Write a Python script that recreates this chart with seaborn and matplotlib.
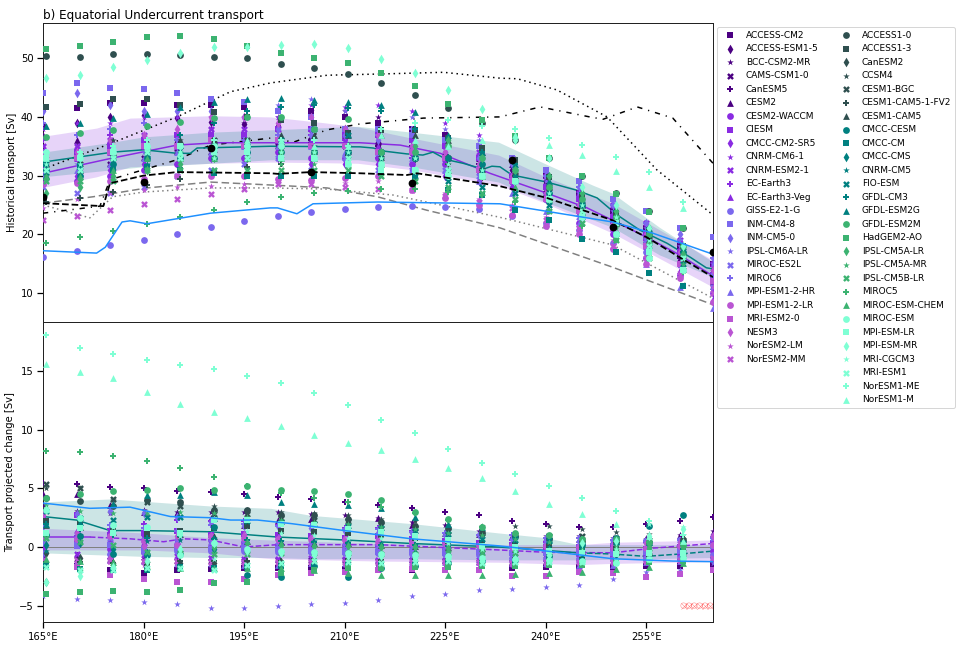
import pandas as pd
import seaborn as sns
import matplotlib.pyplot as plt
from matplotlib.lines import Line2D

# --- Models ---
cmip6_models = ["ACCESS-CM2", "ACCESS-ESM1-5", "BCC-CSM2-MR", "CAMS-CSM1-0", "CanESM5", "CESM2",
                "CESM2-WACCM", "CIESM", "CMCC-CM2-SR5", "CNRM-CM6-1", "CNRM-ESM2-1", "EC-Earth3", "EC-Earth3-Veg",
                "GISS-E2-1-G", "INM-CM4-8", "INM-CM5-0", "IPSL-CM6A-LR", "MIROC-ES2L", "MIROC6", "MPI-ESM1-2-HR",
                "MPI-ESM1-2-LR", "MRI-ESM2-0", "NESM3", "NorESM2-LM", "NorESM2-MM"]
cmip5_models = ["ACCESS1-0", "ACCESS1-3", "CanESM2", "CCSM4", "CESM1-BGC", "CESM1-CAM5-1-FV2", "CESM1-CAM5",
                "CMCC-CESM", "CMCC-CM", "CMCC-CMS", "CNRM-CM5", "FIO-ESM", "GFDL-CM3", "GFDL-ESM2G",
                "GFDL-ESM2M", "HadGEM2-AO", "IPSL-CM5A-LR", "IPSL-CM5A-MR", "IPSL-CM5B-LR", "MIROC5", "MIROC-ESM-CHEM",
                "MIROC-ESM", "MPI-ESM-LR", "MPI-ESM-MR", "MRI-CGCM3", "MRI-ESM1", "NorESM1-ME", "NorESM1-M"]
lons6 = [165, 170, 175, 180, 185, 190, 195, 200, 205, 210, 215, 220, 225, 230, 235, 240, 245, 250, 255, 260, 265]
lons5 = [165.5, 170.5, 175.5, 180.5, 185.5, 190.5, 195.5, 200.5, 205.5, 210.5, 215.5, 220.5, 225.5, 230.5,
         235.5, 240.5, 245.5, 250.5, 255.5, 260.5]

# --- Historical transport, one row per model ---
hist6 = [
    [41.5, 41.5, 42.3, 42.3, 42, 42, 41.7, 41, 41, 40, 39, 38, 37, 35, 33, 30, 27, 24, 21, 18, 15],
    [38.6, 39, 40, 40.3, 39.8, 39.2, 38.8, 38.5, 38, 38, 37, 36, 35, 33, 31, 29, 26, 23, 20, 17, 14],
    [35, 35, 36, 37, 37, 38, 39, 40, 41, 41, 40, 38, 37, 32.5, 32, 29, 27, 24, 21, 17, 13],
    [34, 33, 32, 33, 34, 34, 35, 35, 36, 35, 35, 34, 33, 31, 29, 27, 24, 22, 19, 15, 11],
    [33, 34, 35, 35, 35, 36, 36, 36, 36, 36, 35, 35, 33, 32, 30, 28, 25, 22, 19, 16, 13],
    [37, 36, 36, 35, 36, 37, 37, 36, 36, 37, 36, 35, 34, 33, 32, 29, 27, 23, 20, 16, 12],
    [31, 29, 30, 31, 32, 33, 33, 34, 33, 33, 33, 32, 32, 31, 29, 26, 22, 20, 16, 13, 10],
    [34, 34, 35, 36, 37, 37, 37, 38, 38, 37, 37, 36, 35, 33, 30, 28, 26, 23, 20, 17, 13],
    [30, 30, 31, 32, 32, 33, 33, 33, 32, 32, 32, 31, 30, 29, 28, 26, 24, 21, 18, 15, 11],
    [38, 39, 39, 40, 40, 40, 40, 40, 42, 41.7, 42, 41, 39, 37, 33, 30, 27, 24, 21, 18, 15],
    [35, 35, 36, 37, 37, 38, 38, 38, 38, 37, 37, 37, 35, 34, 33, 30, 27, 25, 22, 19, 15],
    [36, 37, 37, 36, 37, 37, 37, 37, 37, 36, 33, 33, 33, 31, 30, 27, 25, 22, 19, 15, 12],
    [33, 33, 34, 35, 35, 36, 36, 36, 36, 36, 35, 35, 33, 32, 30, 27, 25, 21, 18, 14, 9],
    [16.1, 17.1, 18.1, 19.1, 20.1, 21.2, 22.2, 23.1, 23.8, 24.3, 24.6, 24.8, 24.6, 24.3, 23.2, 22, 20.8, 18.5, 17, 15, 13],
    [44, 45.8, 45, 44.7, 44, 43, 42.5, 41, 40, 38, 38, 37, 36, 35, 33, 31, 29, 26, 24, 21, 19.5],
    [41, 44, 42, 41, 41, 41, 40, 38, 37, 37, 36, 35, 34, 33, 32, 30, 28, 25, 22, 20, 16],
    [32, 32, 34, 34, 34, 34, 35, 42, 43, 41, 38, 40, 38, 36, 32, 29, 27, 24, 21, 18, 15],
    [28, 27, 27, 28, 30, 31, 32, 33, 31, 33, 31, 31, 31, 30, 29, 26, 23, 21, 19, 15, 11],
    [39, 37, 38, 39, 36, 36, 36, 37, 38, 38, 37, 38, 36, 35, 33, 30, 28, 25, 22, 19, 16],
    [30, 31, 32, 33, 34, 34, 35, 35, 35, 34, 34, 33, 31, 29, 27, 24, 22, 18, 15, 11, 7.5],
    [28.5, 28.7, 29, 29.5, 30, 30, 30, 29.5, 29.2, 29.6, 30, 27.5, 26.2, 25, 23.3, 21.5, 20, 17.5, 15, 12.5, 8.5],
    [32, 33, 34, 35, 35, 36, 35, 36, 35, 35, 34, 34, 33, 31, 29, 26, 24, 21, 18, 15, 12],
    [33, 34, 36, 37, 38, 40, 40, 39, 40, 38, 37, 35, 34, 32, 30, 27, 25, 22, 20, 17, 14],
    [24.5, 26, 27, 27.5, 28, 28.3, 28.5, 28.8, 29, 28.7, 29, 28, 27, 26, 25, 23, 21, 19, 16, 13.5, 11],
    [22.5, 23.1, 24.1, 25.2, 26, 26.9, 27.7, 28.5, 28.5, 28, 27.7, 27.5, 26.5, 25.5, 24.5, 22.5, 21, 18, 16, 13, 10],
]
hist5 = [
    [50.3, 50.2, 50.7, 50.7, 50.6, 50.2, 50, 49, 48.4, 47.3, 45.8, 43.7, 41.5, 39, 36, 33, 30, 27, 24, 21],
    [41.7, 42.2, 43, 43, 42, 40.8, 40, 39.5, 39, 37.3, 37.8, 37.8, 36.4, 34.7, 32.6, 29.8, 26.4, 23.5, 20.5, 18],
    [31, 30, 31, 31, 33, 34, 35, 35, 34, 34, 33, 33, 33, 30, 30, 28, 26, 23, 20, 16],
    [33, 34, 36, 36, 36, 36, 35, 34, 35, 35, 34, 33, 32, 31, 30, 27, 24, 22, 19, 16],
    [32, 32, 33, 34, 35, 36, 36, 35, 34, 34, 33, 33, 33, 31, 30, 28, 25, 22, 19, 16],
    [25.5, 26.2, 27.2, 28.4, 29.4, 30.4, 31.5, 32, 33, 33.5, 34, 33, 32, 31, 30, 28, 26, 23, 20, 17],
    [30, 31, 34, 35, 36, 36, 36, 37, 37, 37, 37, 37, 36, 34, 31, 28, 25, 22, 20, 17],
    [31, 30, 32, 33, 33, 33, 34, 34, 34, 34, 34, 33, 33, 32, 29, 27, 25, 23, 20, 17],
    [32, 31.5, 31, 31.5, 31, 30.5, 30, 30, 30, 30, 30.4, 29.6, 27.5, 26.7, 24.1, 22.4, 19.2, 17, 13.4, 11.2],
    [32, 33, 33, 34, 34, 34, 34, 34, 34, 35, 33, 34, 33, 31, 30, 28, 25, 23, 20, 17],
    [29, 30, 31, 32, 33, 33, 33, 33, 33, 33, 33, 33, 31, 30, 29, 27, 25, 22, 19, 16],
    [30, 31, 33, 33, 35, 35, 35, 36, 38, 37, 34, 30, 29, 28, 27, 25, 23, 20, 18, 15],
    [31, 32, 35, 36, 37, 39, 41, 41.7, 42, 41.5, 41, 38, 36, 34, 32, 30, 27, 24, 21, 18],
    [38.4, 39, 39.8, 40.5, 41.7, 42.5, 43, 43.2, 42.9, 42.6, 42, 40.8, 37, 34, 32, 29, 26, 23, 21, 18],
    [36.6, 37.3, 37.8, 38.4, 39.2, 39.8, 40, 40, 38, 39.6, 34, 34, 35, 33, 31, 28, 26, 23, 20, 18],
    [51.6, 52, 52.8, 53.6, 53.8, 53.3, 52, 50.9, 50, 49.2, 47.5, 45.2, 42.2, 39.5, 36.7, 33, 30, 26.9, 23.8, 21],
    [27, 28, 30, 31, 32, 33, 33, 34, 34, 35, 34, 35, 36, 33, 31, 30, 27, 24, 21, 18],
    [30, 33, 33, 34, 34, 34, 33, 32, 32, 33, 33, 33, 31, 30, 29, 26, 24, 21, 18, 15],
    [29, 29, 29, 31, 31, 31, 31, 31, 31, 31, 30, 29, 28, 27, 26, 24, 22, 19, 16, 14],
    [18.5, 19.5, 20.6, 21.8, 22.9, 24.1, 25.5, 26.4, 27, 27.4, 27.7, 27.7, 27.2, 26.7, 25.5, 24, 21.5, 19, 16, 13.5],
    [30, 30, 31, 33, 33, 33, 33, 33, 33, 32, 32, 31, 31, 30, 28, 26, 24, 22, 19, 17],
    [34, 33, 34, 35, 35, 35, 35, 35, 33, 32, 32, 31, 30, 30, 29, 26, 23, 20, 16, 14],
    [33, 33, 34, 35, 35, 34, 34, 33, 33, 32, 31, 31, 30, 30, 29, 26, 23, 22, 17, 14],
    [46.6, 47.2, 48.5, 49.7, 50.9, 51.9, 51.9, 52.2, 52.5, 51.7, 49.9, 47.5, 44.6, 41.3, 36, 33, 28, 25, 21, 18],
    [32, 32, 33, 34, 34, 33, 34, 34, 34, 34, 33, 33, 32, 31, 29, 27, 25, 23, 19, 16],
    [31, 31, 33, 34, 33, 34, 33, 33, 33, 33, 32, 31, 31, 30, 29, 26, 24, 20, 18, 16],
    [34, 34, 35, 36, 35, 36, 35, 36, 36, 35, 38, 39, 39.5, 38.5, 38, 36.4, 35.2, 33.2, 30.6, 25.5],
    [33, 34, 35, 35, 34, 35, 36, 36, 35, 35, 37, 36, 35, 36, 37, 35.2, 33.5, 30.8, 28, 24.5],
]

# --- Projected change, one row per model ---
proj6 = [
    [-1.5, -1.6, -2, -2.2, -2, -1.9, -1.8, -1.8, -1.8, -1.9, -2, -2, -2, -2, -1.8, -1.7, -1.7, -1.7, -1.6, -1.6, -1.5],
    [-.9, -.8, -.9, -1, -1, -1.1, -1.2, -1.3, -1.4, -1.4, -1.5, -1.4, -1.4, -1.3, -1.2, -1.2, -1.1, -1.1, -1.1, -1, -1],
    [3.6, 3.1, 2.9, 3.2, 3, 3, 3, 3, 2.8, 2.7, 2.5, 2.1, 1.9, 1.4, 1, .9, .9, .8, .7, 1, 1.4],
    [-1, -1, -1.1, -1.2, -1.2, -1.2, -1.2, -1.1, -1.1, -1.1, -1.2, -1.1, -1.2, -1.3, -1.3, -1.3, -1.3, -1.3, -1.2, -1.2, -1],
    [5.5, 5.4, 5.1, 5, 4.8, 4.7, 4.5, 4.3, 4.1, 3.8, 3.6, 3.3, 3, 2.7, 2.2, 2, 1.7, 1.7, 2, 2.2, 2.6],
    [4.5, 4.5, 3.6, 3, 2.9, 2.5, 1.9, 2.3, 2.4, 1.7, 2.5, 1.9, 1.2, 1.1, .9, .8, .7, .6, .8, 1, 1.2],
    [0, .5, -.2, -.4, .2, .6, .4, .2, .1, .2, .1, .1, -.2, -.3, -.4, -.5, -.7, -.8, -.7, -.6, -.3],
    [2.5, 2.7, 1, 1.2, 1.4, 1, 1.1, 1, .9, .8, .9, .7, .5, .3, .2, 0, -.1, -.2, -.2, 0, .3],
    [.5, 1.3, 1.4, .9, .6, .1, .2, .1, 0, -.1, -.2, -.4, -.4, -.6, -.7, -.7, -.8, -.7, -.7, -.6, -.3],
    [1, 1.2, .4, .4, .5, .6, .8, .5, .4, .4, .2, .2, .1, 0, .1, .2, .2, .4, .6, .7, 1],
    [-.5, -.6, -.8, -.7, -.8, -.9, -1, -1, -.9, -1, -1.1, -1.1, -1.1, -1.1, -1.1, -1, -1.1, -1, -1, -.9, -.8],
    [.7, .9, 1.5, 2, 2.3, 2.2, 2.2, 1.9, 1.8, 1.6, 1.6, 1.4, 1.2, 1, .6, .4, .2, .2, .4, .6, .8],
    [.2, .5, .7, .4, .4, .4, .5, .4, .3, .2, .3, .1, 0, -.1, -.2, -.3, -.4, -.5, -.3, -.2, .2],
    [-.5, .3, -.6, -.4, -.3, -.3, -.3, -.4, -.4, -.5, -.5, -.6, -.6, -.7, -.9, -1, -1, -1, -.9, -.9, -.7],
    [.3, .1, .2, -.2, -.1, -.2, -.1, -.2, -.3, -.4, -.4, -.4, -.5, -.4, -.5, -.5, -.4, -.5, -.4, -.3, .1],
    [1.8, 2.8, 3.1, 2.9, 2.6, 2.1, 1.8, 1.8, 1.6, 1.4, 1.2, 1.2, 1, 1, .7, .6, .5, .3, .4, .5, .9],
    [-4.2, -4.4, -4.5, -4.7, -4.9, -5.2, -5.2, -5.05, -4.9, -4.8, -4.5, -4.2, -4, -3.7, -3.6, -3.4, -3.2, -2.75, -2.1, -2, -1.4],
    [1.2, 1, .8, .6, .5, .4, .3, .2, .2, .1, .1, 0, 0, 0, .1, .2, .3, .4, .5, .6, .8],
    [1.4, .8, 1.9, 1.6, 1.4, 1.9, 2, 1.8, 1.8, 1.5, 1.5, 1.3, 1.2, 1, 1, .8, .8, .6, .5, .6, .8],
    [-1, -1.2, -1.1, -1.2, -1.4, -1.4, -1.5, -1.5, -1.4, -1.4, -1.5, -1.3, -1.3, -1.3, -1.4, -1.4, -1.5, -1.5, -1.3, -1.2, -.7],
    [.9, .7, .9, .5, .2, .9, .8, .7, .7, .6, .4, .3, .3, .2, .1, .1, 0, -.1, -.1, .1, .2],
    [-1.4, -1.7, -2.4, -2.75, -3, -3, -2.75, -2.4, -2.2, -2.1, -2, -1.9, -2, -2, -2.5, -2.5, -2.1, -2.2, -2.6, -2.3, -2],
    [2.7, 1.2, -.9, .1, .9, .9, 1, .7, .8, .8, .7, .5, .3, .2, 0, 0, 0, .2, .3, .4, .9],
    [-1.2, -1.3, -1.3, -1.5, -1.5, -1.5, -1.5, -1.4, -1.4, -1.5, -1.5, -1.5, -1.4, -1.5, -1.5, -1.5, -1.4, -1.4, -1.3, -1.2, -1],
    [-1.1, -1.1, -1.2, -1.2, -1.2, -1.3, -1.3, -1.3, -1.3, -1.3, -1.3, -1.3, -1.3, -1.3, -1.4, -1.3, -1.3, -1.3, -1.2, -1.1, -.9],
]
proj5 = [
    [4.2, 3.9, 3.5, 4, 3.8, 3.2, 3.2, 2.7, 2.7, 2.4, 2.1, 1.8, 1.6, 1.2, .9, .7, .5, .4, .4, .6],
    [2.2, 2, 1.4, 1.1, 1.4, 1.6, 1.8, 1.4, 1.3, 1.2, 1, .8, .5, .3, .2, .1, -.1, -.2, -.5, -.7],
    [-.5, -.9, -1.4, -1.3, -1.4, -1.4, -1.4, -1.3, -1.3, -1.3, -1.3, -1.2, -1.2, -1.2, -1.1, -1.1, -1, -1, -.9, -.9],
    [5, 5, 4, 4.2, 3.7, 3.5, 3.2, 3, 2.9, 2.7, 2.4, 2.2, 1.9, 1.8, 1.8, 1.8, 1.5, 1.3, 1.1, 1],
    [5.4, 5, 4.1, 3.8, 3.5, 2.8, 2.8, 2.5, 2.3, 2.2, 1.9, 1.6, 1.4, 1.2, 1, .9, .9, .8, .6, .6],
    [-1.3, -1.3, -1.4, -1.5, -1.2, -1.2, -1.2, -1.2, -1, -1, -1.1, -1, -1, -1, -.9, -.9, -.9, -.8, -.8, -.8],
    [1.9, 1.7, 1.3, 1.1, 1.1, .9, .5, .4, .3, .3, .2, .1, 0, -.1, -.2, -.2, -.3, -.4, -.4, -.5],
    [1, .9, -.6, -.7, -.6, 1.7, -2.4, -2.6, -1.6, -2.6, -1.8, -1.6, -1.4, -1.2, -1.1, -.8, .2, .8, 1.8, 2.7],
    [-1.5, -1.9, -2, -2, -1.7, -1.8, -1.7, -1.6, -1.6, -1.5, -1.5, -1.5, -1.4, -1.4, -1.3, -1.3, -1.2, -1.2, -1.1, -1],
    [.2, .3, -.2, -.5, -.3, -.2, -.3, -.4, -.5, -.5, -.6, -.5, -.6, -.6, -.7, -.6, -.6, -.6, -.5, -.5],
    [-.3, 1, 1.3, .5, .6, .8, .6, .5, .5, .4, .3, .2, .1, .1, 0, 0, .1, .1, .2, .3],
    [3.1, 2.5, 2.3, 2.6, 2.6, 2.4, 2.2, 2.1, 2, 1.8, 1.6, 1.4, 1.1, .7, .6, .6, .5, .4, .3, .3],
    [2, 1.5, 1, .8, .9, .7, .6, .5, .4, .3, .2, .2, .1, .1, -.1, -.2, -.2, -.3, -.3, -.2],
    [2, 2.1, 3.7, 4.4, 4.4, 4.7, 4.4, 3.8, 3.7, 3.6, 3.3, 2.6, 2, 1.7, 1.1, .6, .5, .5, .4, .4],
    [4.2, 4.5, 4.8, 4.9, 5, 4.9, 5.2, 4.9, 4.8, 4.5, 4, 3, 2.4, 1.7, 1.2, 1, .7, .7, .4, .2],
    [-4, -3.8, -3.75, -3.8, -3.65, -3.05, -3, -2.2, -2, -1.8, -1.8, -1.7, -1.7, -1.6, -1.6, -1.5, -1.5, -1.4, -1.3, -1.2],
    [-3, -2, -1.5, -1.3, -.3, 0, .3, .2, .1, .1, 0, 0, -.1, -.2, -.2, -.3, -.3, -.2, -.1, 0],
    [3.6, 3.1, 2.9, 2.9, 3, 2.9, 2.6, 2.3, 2.1, 2, 1.7, 1.5, 1.2, 1, .7, .4, .3, .1, .1, .2],
    [.8, .4, .2, -.4, -.5, -.6, -.6, -.5, -.5, -.5, -.6, -.6, -.5, -.5, -.5, -.5, -.5, -.5, -.4, -.4],
    [8.2, 8.1, 7.8, 7.3, 6.7, 6, 5.2, 4.6, 4.2, 3.8, 3.4, 2.9, 2.3, 1.7, 1.1, .9, .7, .5, .4, .3],
    [-1, -1.2, -1.3, -1.6, -1.8, -1.8, -1.8, -1.8, -2, -2.2, -2.4, -2.4, -2.4, -2.4, -2.3, -2.2, -2.1, -1.9, -1.7, -1.4],
    [3.2, 2.5, 1.9, 1.7, -.7, .3, -.2, -.3, -.4, -.5, -.6, -.7, -.8, -.9, -1, -1.1, -1.2, -1.4, -1, -.9],
    [1.2, 1.6, 1.2, 1.6, 1.2, 2.3, 2.3, 2, 1.9, 1.5, 1.3, .9, .6, .1, 0, -.3, -.5, -.6, -.5, -.5],
    [-3, -2.5, -1.7, -1.2, -.2, .3, -.3, -.5, -.7, -.8, -.8, -.9, -.9, -1, -1, -.7, .3, .5, .9, 1.5],
    [3.3, 2.4, 1.7, -1, .9, -1, 1.4, 1.2, 1, .8, .8, .7, .3, -.2, -.3, -.5, -.3, -.2, 2, 1.7],
    [-1.7, -2, -2, -1.8, -1.8, -2, -1.5, -1.4, -1.2, -1.3, -1.4, -1.3, -1.2, -1.4, -1.3, -1.3, -1.3, -1.1, -1, -.9],
    [18.1, 17, 16.5, 16, 15.5, 15.2, 14.6, 14, 13.1, 12.1, 10.8, 9.7, 8.4, 7.2, 6.2, 5.2, 4.2, 3.1, 2.2, 1],
    [15.6, 14.9, 14.4, 13.2, 12.2, 11.5, 11, 10.3, 9.6, 8.9, 8.3, 7.5, 6.7, 5.9, 4.8, 3.7, 2.8, 2, .9, .5],
]

# --- Observation points ---
obs_lon = [165, 180, 190, 205, 220, 235, 250, 265]
obs_sv = [26.4, 28.9, 34.7, 30.6, 28.7, 32.6, 21.2, 17]

# --- Historical lines ---
blue_lon = [165, 173, 174.3, 176.8, 178, 180.5, 190, 198.9, 200, 202.9, 205.3, 214.9, 233.2, 239.2, 250, 256, 265]
blue_sv = [17.2, 16.8, 17.8, 22.1, 22.3, 21.8, 23.6, 24.5, 24.5, 23.5, 25.2, 25.5, 25.2, 24.1, 22.1, 20.2, 16.6]
teal_lon = [165, 175.4, 180, 185, 187, 188, 199, 212.3, 214.3, 215.7, 219.3, 221.7, 223.2, 225.3, 227.7, 230.7,
            232, 233.2, 235, 240.2, 244.7, 247.7, 250.7, 254.1, 258.1, 261.6, 264, 265]
teal_sv = [32.3, 34, 34.4, 33.8, 33.8, 34.7, 35, 34.9, 34.7, 34.2, 33.7, 33.5, 34, 32.7, 32.1, 31.1,
           31.6, 31.5, 30.1, 28.9, 27.5, 26.2, 23.3, 20.7, 18.5, 16.1, 14.3, 14.1]
purple_lon = [165, 175.4, 185, 191, 199, 212.3, 218.3, 224.3, 231.7, 240.2, 246.2, 250, 255.1, 260, 265]
purple_sv = [30.4, 33, 35.2, 35.6, 35.6, 35.6, 35.2, 33.8, 30.4, 27, 24.5, 22.4, 19.5, 16.5, 12.9]
dotted_lon = [165, 175.4, 185, 193, 199, 207.4, 214.9, 224.8, 233.2, 235.8, 241.7, 249.2, 256.6, 265]
dotted_sv = [31.1, 35.6, 40, 44.3, 45.8, 47.1, 47.3, 47.6, 46.6, 46.5, 44.6, 40, 31, 23.3]
dashdot_lon = [165, 173.5, 175, 180, 185, 190, 199, 202.4, 207.4, 212.3, 221.8, 233.2, 239.2, 246.6, 248.6, 253.7, 259, 265]
dashdot_sv = [23.6, 24.8, 29.3, 31, 32.7, 35.2, 36.4, 35.7, 37.8, 38.8, 39.8, 40, 41.7, 40, 39.6, 41.7, 39.8, 32.1]
dashed_lon = [165, 174, 175, 180, 185, 199, 200, 205, 212.3, 219.3, 220.8, 227.2, 233.2, 240.2, 250, 255.1, 260, 265]
dashed_sv = [25.3, 24.8, 28.7, 30, 30.6, 30.4, 30.3, 30.6, 30.4, 30.1, 30.4, 29.3, 28.2, 26.2, 22.4, 19.5, 16.1, 12.7]
gray_dash_lon = [165, 172.5, 180.5, 190, 199, 207.4, 214.9, 222.3, 233.2, 250, 265]
gray_dash_sv = [25.3, 26.4, 27.9, 28.9, 28.4, 27.9, 26.4, 24.1, 21.1, 14.4, 8]
gray_dot_lon = [165, 172, 175.4, 180, 190, 199, 207.4, 217.2, 233.2, 250, 265]
gray_dot_sv = [25, 22.8, 26.4, 27.2, 27.9, 27.9, 27.7, 26.7, 22.9, 18.2, 9.1]

# --- Historical bands ---
band6_lon = [165, 173, 178, 190, 199, 207, 212, 220, 233, 240, 250, 265]
band6_hi = [36.7, 38.1, 39.8, 40.2, 40, 39, 38.3, 36.4, 33.5, 29.8, 25.3, 15.6]
band6_lo = [28, 29.8, 31.5, 32.1, 32.3, 32.2, 32.1, 31, 28.4, 25.3, 20.2, 11]
band5_lon = [165, 175.4, 180, 190, 199, 212, 220, 233, 240, 247, 250, 257, 265]
band5_hi = [34, 35.7, 36.6, 37.4, 37.8, 38.4, 37.4, 35.7, 32, 28.4, 27, 21.2, 15.3]
band5_lo = [29.8, 31, 31.5, 32.1, 32.7, 32.7, 31.5, 28.9, 25.5, 22.5, 21.2, 16.5, 12.7]

# --- Projection lines ---
pblue_lon = [165, 172, 178, 184, 190, 193, 197, 202, 210, 220, 233, 241, 250, 259, 265]
pblue_sv = [3.75, 3.3, 3.4, 2.6, 2.5, 2.3, 2.3, 2, 1.4, .7, .1, -.4, -1, -1.2, -1.25]
pteal_lon = [165, 170, 175, 180, 190, 200, 210, 220, 233, 245]
pteal_sv = [2.6, 2.3, 1.4, 1.4, 1.3, .85, .6, .3, 0, -.5]
pteal_dash_lon = [245, 250, 255, 260, 265]
pteal_dash_sv = [-.5, -.6, -.8, -.6, -.35]
ppurple_lon = [165, 172]
ppurple_sv = [.85, .85]
ppurple_dash_lon = [172, 178, 183, 186, 190, 195, 200, 215, 233, 240, 250, 256, 265]
ppurple_dash_sv = [.85, .7, .45, .7, .6, 0, .2, .2, -.25, -.45, -.5, -.1, .3]

# --- Projection bands ---
pband5_lon = [165, 175, 180, 190, 199, 205, 220, 233, 240, 245, 265]
pband5_hi = [3.85, 4.1, 3.9, 3.5, 3.3, 2.7, 2, 1.2, .8, .2, .2]
pband5_lo = [-.5, -.7, -.8, -.9, -.9, -1, -1, -1.1, -1.1, -1.1, -.9]
pband6_lon = [165, 180, 190, 199, 215, 233, 245, 250, 265]
pband6_hi = [1.6, 1.2, .8, .6, .3, .2, .2, .4, .6]
pband6_lo = [-.25, -.25, -.5, -1, -1.2, -1.3, -1.5, -1.4, -1.25]

# --- Significance markers ---
sig_lon = [260.6, 261.4, 262.2, 263, 263.8, 264.6]
sig_sv = [-5, -5, -5, -5, -5, -5]

# --- Styles ---
markers = ["s", "d", "*", "X", "P", "^", "o"]
markers5 = ["o", "s", "d", "*", "X", "P", "^"]
colors6 = ["#4B0082"] * 6 + ["#8A2BE2"] * 7 + ["#7B68EE"] * 7 + ["#BA55D3"] * 5
colors5 = ["#2F4F4F"] * 7 + ["#008080"] * 7 + ["#3CB371"] * 7 + ["#7FFFD4"] * 7

sns.set_theme(style="ticks", rc={
    "axes.edgecolor": "#222222",
    "axes.linewidth": 1.0,
    "xtick.labelsize": 10,
    "ytick.labelsize": 10,
    "axes.labelsize": 10,
    "text.color": "black",
    "axes.labelcolor": "black",
    "xtick.color": "black",
    "ytick.color": "black",
})
plt.rcParams["font.family"] = "DejaVu Sans"

W, H = 962, 645
fig = plt.figure(figsize=(W / 72, H / 72), dpi=72)
ax1 = fig.add_axes([43 / W, 1 - 322 / H, 670 / W, 299 / H])
ax2 = fig.add_axes([43 / W, 1 - 622 / H, 670 / W, 300 / H])


def scatter_models(ax, names, lons, rows, cycle, colors):
    for i, name in enumerate(names):
        frame = pd.DataFrame({"lon": lons[:len(rows[i])], "sv": rows[i]})
        sns.scatterplot(data=frame, x="lon", y="sv", ax=ax, marker=cycle[i % 7], color=colors[i],
                        s=46, linewidth=0, alpha=1.0, label=name, legend=False, zorder=4)


def line(ax, xs, ys, color, ls="-", lw=1.5, z=3):
    sns.lineplot(x=xs, y=ys, ax=ax, color=color, linestyle=ls, linewidth=lw, legend=False, zorder=z)


# --- Top panel ---
ax1.fill_between(band6_lon, band6_lo, band6_hi, color="#8A2BE2", alpha=0.2, linewidth=0, zorder=1)
ax1.fill_between(band5_lon, band5_lo, band5_hi, color="#008080", alpha=0.2, linewidth=0, zorder=1)

scatter_models(ax1, cmip6_models, lons6, hist6, markers, colors6)
scatter_models(ax1, cmip5_models, lons5, hist5, markers5, colors5)

line(ax1, gray_dash_lon, gray_dash_sv, "gray", ls=(0, (5, 2.5)))
line(ax1, gray_dot_lon, gray_dot_sv, "gray", ls=(0, (1, 2.2)))
line(ax1, dotted_lon, dotted_sv, "black", ls=(0, (1, 2.5)))
line(ax1, dashdot_lon, dashdot_sv, "black", ls=(0, (3.5, 4, 0.8, 4)))
line(ax1, dashed_lon, dashed_sv, "black", ls="--", lw=1.8, z=5)
line(ax1, blue_lon, blue_sv, "dodgerblue", z=5)
line(ax1, purple_lon, purple_sv, "#8A2BE2", z=3)
line(ax1, teal_lon, teal_sv, "#008080", z=3)
sns.scatterplot(x=obs_lon, y=obs_sv, ax=ax1, color="black", s=60, linewidth=0, legend=False, zorder=6)

ax1.set_xlim(165, 265)
ax1.set_ylim(5.06, 56)
ax1.set_yticks([10, 20, 30, 40, 50])
ax1.set_xticks([])
ax1.set_xlabel("")
ax1.set_ylabel("Historical transport [Sv]", labelpad=4)
ax1.set_title("b) Equatorial Undercurrent transport", loc="left", fontsize=12, pad=4)

# --- Bottom panel ---
ax2.fill_between(pband5_lon, pband5_lo, pband5_hi, color="#008080", alpha=0.2, linewidth=0, zorder=1)
ax2.fill_between(pband6_lon, pband6_lo, pband6_hi, color="#8A2BE2", alpha=0.2, linewidth=0, zorder=1)
ax2.axhline(0, color="gray", linewidth=1, zorder=2)

scatter_models(ax2, cmip6_models, lons6, proj6, markers, colors6)
scatter_models(ax2, cmip5_models, lons5, proj5, markers5, colors5)

line(ax2, ppurple_lon, ppurple_sv, "#8A2BE2")
line(ax2, ppurple_dash_lon, ppurple_dash_sv, "#8A2BE2", ls="--")
line(ax2, pteal_lon, pteal_sv, "#008080")
line(ax2, pteal_dash_lon, pteal_dash_sv, "#008080", ls="--")
line(ax2, pblue_lon, pblue_sv, "dodgerblue", z=5)

sns.scatterplot(x=sig_lon, y=sig_sv, ax=ax2, marker="x", color="red", s=36, alpha=0.5, legend=False, zorder=6)
ax2.scatter(sig_lon, sig_sv, marker="o", s=30, facecolor="none", edgecolor="red", linewidth=0.6, alpha=0.4, zorder=6)

ax2.set_xlim(165, 265)
ax2.set_ylim(-6.4, 19.2)
ax2.set_yticks([-5, 0, 5, 10, 15])
ax2.set_xticks([165, 180, 195, 210, 225, 240, 255])
ax2.set_xticklabels(["165°E", "180°E", "195°E", "210°E", "225°E", "240°E", "255°E"])
ax2.set_xlabel("")
ax2.set_ylabel("Transport projected change [Sv]", labelpad=4)

# --- Legend, blank rows keep CMIP6 in the first column ---
handles, labels = ax1.get_legend_handles_labels()
n6 = len(cmip6_models)
blank = Line2D([], [], linestyle="none")
handles = handles[:n6] + [blank] * 3 + handles[n6:n6 + len(cmip5_models)]
labels = labels[:n6] + [" "] * 3 + labels[n6:n6 + len(cmip5_models)]
fig.legend(handles, labels, ncol=2, loc="upper left", bbox_to_anchor=(717 / W, 1 - 27 / H),
           bbox_transform=fig.transFigure, fontsize=9, borderaxespad=0, columnspacing=2.0, handletextpad=0.8,
           frameon=True, framealpha=0.8)

fig.savefig("out.png", dpi=72)
